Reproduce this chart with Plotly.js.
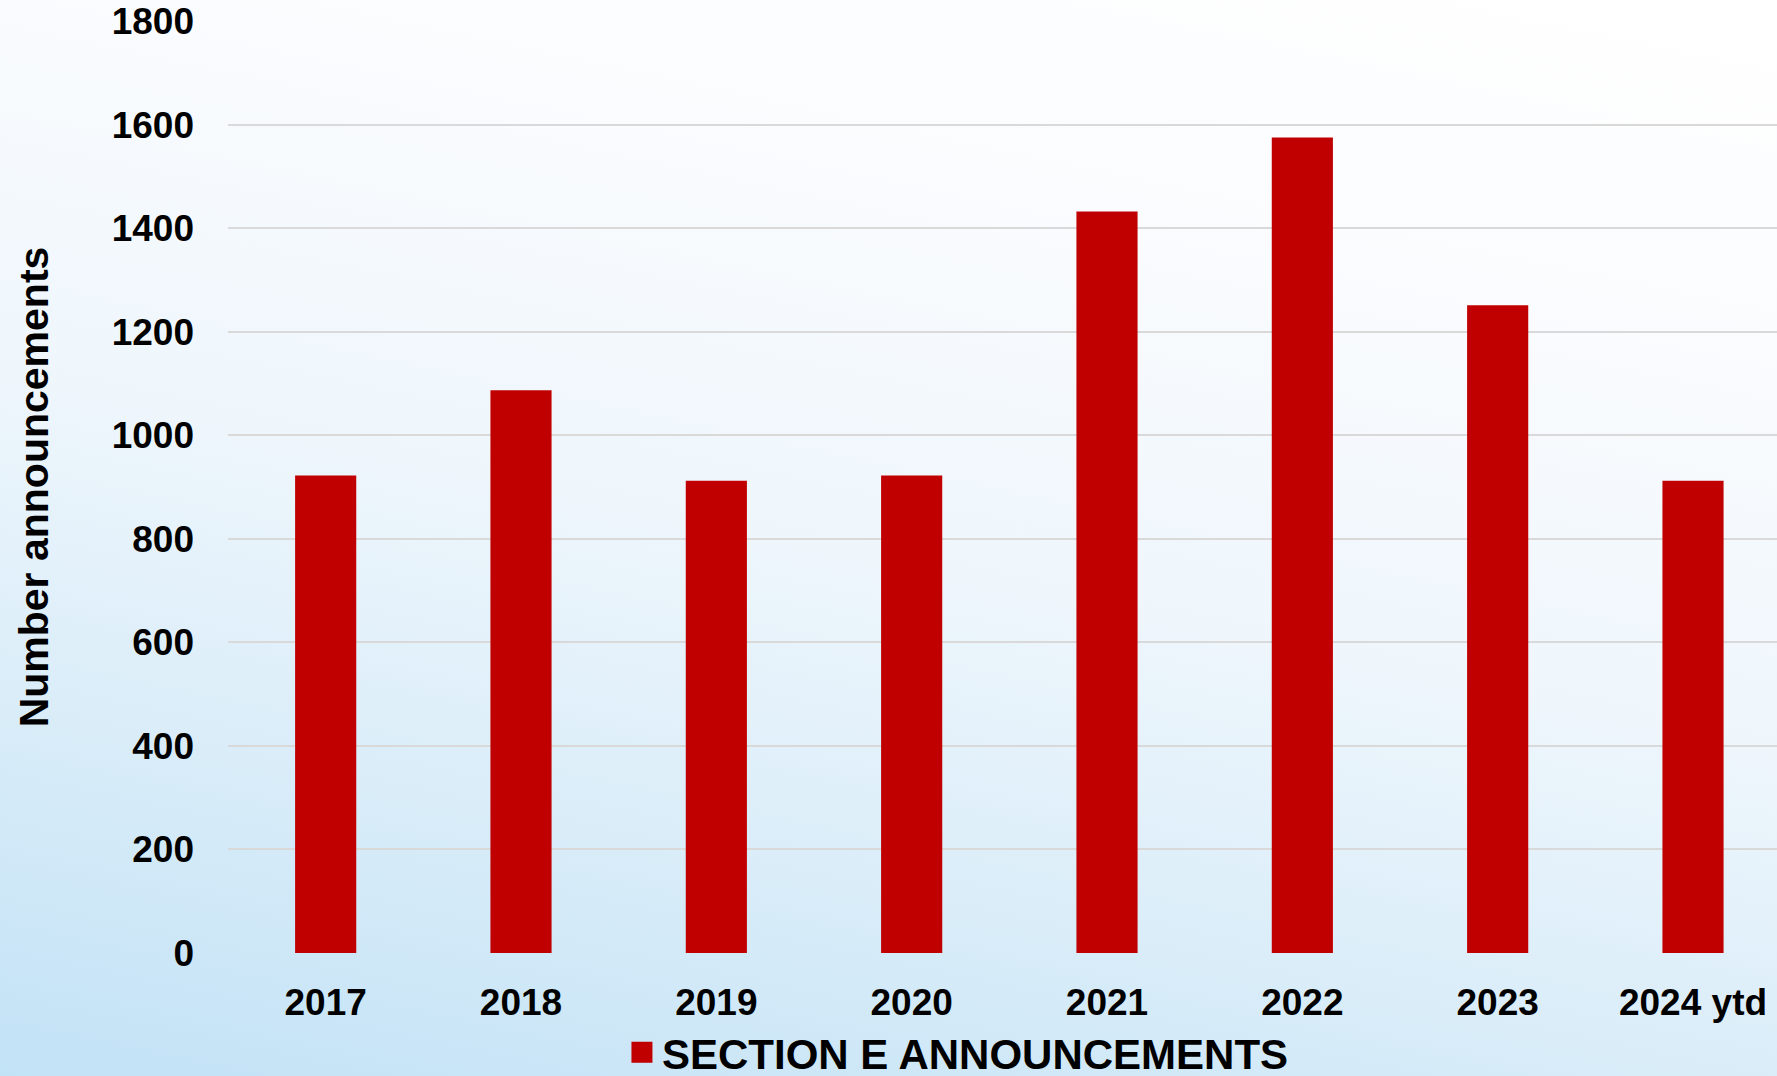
<!DOCTYPE html>
<html>
<head>
<meta charset="utf-8">
<script src="https://cdn.plot.ly/plotly-3.0.1.min.js"></script>
<style>
  html, body { margin:0; padding:0; width:1777px; height:1076px; overflow:hidden; }
  body { background: linear-gradient(192deg, #ffffff 0%, #fbfcfe 22%, #eef6fc 52%, #d6ebf8 78%, #c2e2f6 100%); }
  #chart { width:1777px; height:1076px; }
</style>
</head>
<body>
<div id="chart"></div>
<script>
const categories = ["2017", "2018", "2019", "2020", "2021", "2022", "2023", "2024 ytd"];
const announcements = [922, 1087, 912, 922, 1432, 1575, 1251, 912];
const yTicks = [0, 200, 400, 600, 800, 1000, 1200, 1400, 1600, 1800];
const seriesName = "SECTION E ANNOUNCEMENTS";
const yTitle = "Number announcements";

const fontFam = "Liberation Sans, Arial, sans-serif";
const barColor = "#C00000";

const barTrace = {
  type: "bar",
  x: categories,
  y: announcements,
  name: seriesName,
  legendgroup: "e",
  marker: { color: barColor },
  showlegend: false,
  hoverinfo: "x+y"
};

// legend key only (larger square than the default bar swatch)
const legendKey = {
  type: "scatter",
  mode: "markers",
  x: categories,
  y: categories.map(() => null),
  name: seriesName,
  legendgroup: "e",
  marker: { symbol: "square", size: 24, color: barColor, line: { width: 5, color: barColor } },
  showlegend: true,
  hoverinfo: "skip"
};

const layout = {
  width: 1777,
  height: 1076,
  paper_bgcolor: "rgba(0,0,0,0)",
  plot_bgcolor: "rgba(0,0,0,0)",
  margin: { l: 228, r: 0, t: 21, b: 123 },
  bargap: 0.687,
  font: { family: fontFam, color: "#000000" },
  xaxis: {
    type: "category",
    range: [-0.5, 7.43],
    showgrid: false,
    zeroline: false,
    showline: false,
    ticks: "",
    ticklabelstandoff: 24,
    tickfont: { family: fontFam, size: 37, color: "#000", weight: "bold" },
    fixedrange: true
  },
  yaxis: {
    range: [0, 1800],
    tickvals: yTicks,
    ticktext: yTicks.map(String),
    showgrid: true,
    gridcolor: "#d9d9d9",
    gridwidth: 2,
    zeroline: false,
    showline: false,
    ticks: "",
    ticklabelstandoff: 33,
    tickfont: { family: fontFam, size: 37, color: "#000", weight: "bold" },
    title: {
      text: yTitle,
      font: { family: fontFam, size: 41, color: "#000", weight: "bold" },
      standoff: 50
    },
    fixedrange: true
  },
  showlegend: true,
  legend: {
    orientation: "h",
    xref: "container",
    yref: "container",
    x: 0.35,
    xanchor: "left",
    y: 0.022,
    yanchor: "middle",
    bgcolor: "rgba(0,0,0,0)",
    font: { family: fontFam, size: 42, color: "#000", weight: "bold" }
  }
};

Plotly.newPlot("chart", [barTrace, legendKey], layout, { displayModeBar: false, staticPlot: true });
</script>
</body>
</html>
